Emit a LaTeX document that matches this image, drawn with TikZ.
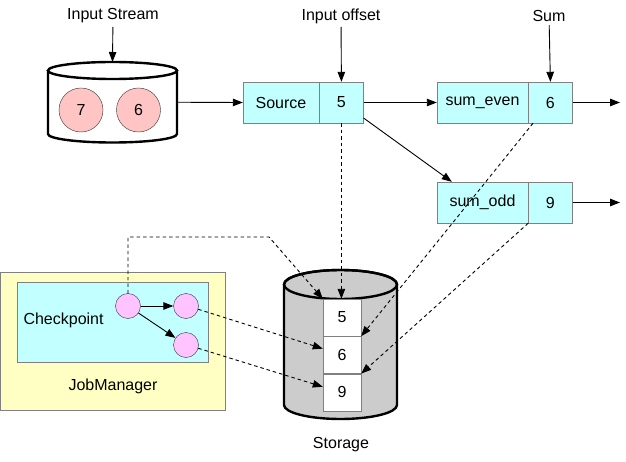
\documentclass[tikz,border=0pt]{standalone}
\usepackage{fontspec}
\setmainfont{Liberation Sans}
\usetikzlibrary{arrows.meta,positioning,calc}
\definecolor{opcyan}{HTML}{C2FFFF}
\definecolor{tokenpink}{HTML}{FFC4C4}
\definecolor{statepink}{HTML}{FFC4FF}
\definecolor{jmyellow}{HTML}{FFFFC4}
\definecolor{storegray}{HTML}{CCCCCC}

\begin{document}
\begin{tikzpicture}[
  x=1pt, y=1pt,
  font=\fontsize{16}{19}\selectfont,
  cell/.style={draw=black!50, fill=opcyan, minimum height=41pt, inner sep=0pt},
  slot/.style={draw=black!50, fill=white, minimum width=38pt, minimum height=37pt, inner sep=0pt},
  token/.style={circle, draw=black!80, fill=tokenpink, minimum size=44pt, inner sep=0pt},
  state/.style={circle, draw=black!80, fill=statepink, minimum size=25pt, inner sep=0pt},
  drum/.style={draw=black, line width=2.4pt},
  arrow/.style={-{Triangle[length=10pt,width=7.5pt]}, line width=0.9pt},
  backup/.style={arrow, dash pattern=on 3.5pt off 3pt},
]
\useasboundingbox (0,0) rectangle (626,461);

% Input stream cylinder
\draw[drum, fill=white] (48,390.5) -- (48,327)
  arc[start angle=180, end angle=360, x radius=64.5pt, y radius=8.5pt] -- (177,390.5);
\draw[drum] (112.5,390.5) ellipse[x radius=64.5pt, y radius=8.5pt];
\node[minimum width=129pt, minimum height=63.5pt, inner sep=0pt] (stream) at (112.5,358.75) {};
\coordinate (streamtop) at (112.5,399);
\node[token] (t7) at (81,351) {7};
\node[token] (t6) at (138.5,351) {6};

% Operators
\node[cell, minimum width=76pt] (source) at (281,358.5) {Source};
\node[cell, minimum width=44pt, anchor=west] (offv) at (source.east) {5};
\node[cell, minimum width=91pt] (even) at (482.5,358.5) {sum\_even};
\node[cell, minimum width=44pt, anchor=west] (evenv) at (even.east) {6};
\node[cell, minimum width=91pt] (odd) at (482.5,258.5) {sum\_odd};
\node[cell, minimum width=44pt, anchor=west] (oddv) at (odd.east) {9};
\coordinate (evenout) at (620,358.5);
\coordinate (oddout) at (620,258.5);

% Labels on top
\node (instream) at (113,445) {Input Stream};
\node (inoffset) at (341,445) {Input offset};
\node (sumlabel) at (549,445) {Sum};

% Storage cylinder
\draw[drum, fill=storegray] (284,176.5) -- (284,56)
  arc[start angle=180, end angle=360, x radius=56.5pt, y radius=14pt] -- (397,176.5)
  arc[start angle=0, end angle=180, x radius=56.5pt, y radius=14.5pt] -- cycle;
\draw[drum] (340.5,176.5) ellipse[x radius=56.5pt, y radius=14.5pt];
\node[slot] (s5) at (342,143.5) {5};
\node[slot, below=0pt of s5] (s6) {6};
\node[slot, below=0pt of s6] (s9) {9};
\node (storage) at (341,16) {Storage};

% JobManager
\node[draw=black!50, fill=jmyellow, minimum width=225pt, minimum height=138pt] (jm) at (112.5,120) {};
\node (jmlabel) at (113,75) {JobManager};
\node[draw=black!50, fill=opcyan, minimum width=191pt, minimum height=80pt] (ckpt) at (112.5,139) {};
\node[anchor=west] (ckptlabel) at (20,141) {Checkpoint};
\node[state] (c1) at (128,155) {};
\node[state] (c2) at (186,155) {};
\node[state] (c3) at (186,116) {};
\coordinate (bend) at (269,224);

% Arrows
\draw[arrow] (instream) -- (streamtop);
\draw[arrow] (inoffset) -- (offv.north);
\draw[arrow] (sumlabel) -- (evenv.north);
\draw[arrow] (stream.east) -- (source.west);
\draw[arrow] (offv.east) -- (even.west);
\draw[arrow] (offv.-35) -- (odd.146);
\draw[arrow] (evenv.east) -- (evenout);
\draw[arrow] (oddv.east) -- (oddout);
\draw[arrow] (c1) -- (c2);
\draw[arrow] (c1) -- (c3);

% Snapshots to storage
\draw[backup] (offv.south) -- (offv.south |- s5.north);
\draw[backup] (evenv.230) -- (s6.north east);
\draw[backup] (oddv.south west) -- (s9.north east);
\draw[backup] (c1.north) |- (bend) -- (s5.north west);
\draw[backup] (c2.-15) -- (s6.162);
\draw[backup] (c3.-15) -- (s9.164);

\end{tikzpicture}
\end{document}
